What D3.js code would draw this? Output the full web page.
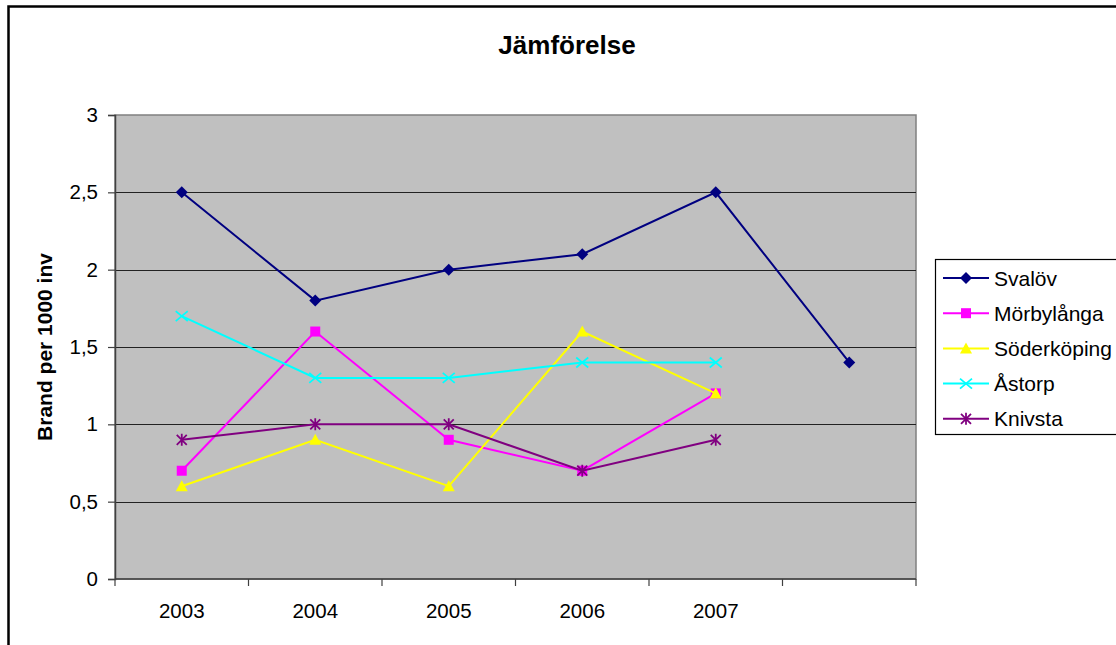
<!DOCTYPE html>
<html>
<head>
<meta charset="utf-8">
<script src="https://cdn.jsdelivr.net/npm/d3@7"></script>
<style>
  html, body { margin: 0; padding: 0; background: #fff; }
  svg { display: block; font-family: "Liberation Sans", Arial, sans-serif; }
</style>
</head>
<body>
<svg id="chart" width="1116" height="645"></svg>
<script>
// Bränder per 1000 invånare, fem kommuner
const categories = ["2003", "2004", "2005", "2006", "2007", ""];
const yTicks = [0, 0.5, 1, 1.5, 2, 2.5, 3];
const seriesNames = ["Svalöv", "Mörbylånga", "Söderköping", "Åstorp", "Knivsta"];
const svalov      = [2.5, 1.8, 2.0, 2.1, 2.5, 1.4];
const morbylanga  = [0.7, 1.6, 0.9, 0.7, 1.2];
const soderkoping = [0.6, 0.9, 0.6, 1.6, 1.2];
const astorp      = [1.7, 1.3, 1.3, 1.4, 1.4];
const knivsta     = [0.9, 1.0, 1.0, 0.7, 0.9];

const seriesValues = [svalov, morbylanga, soderkoping, astorp, knivsta];
const seriesColors = ["#000080", "#ff00ff", "#ffff00", "#00ffff", "#800080"];
const seriesMarkers = ["diamond", "square", "triangle", "cross", "star"];

const svg = d3.select("#chart");
const plot = { left: 115, top: 115, right: 916, bottom: 579 };

// outer chart frame (continues past the right and bottom edges)
svg.append("rect")
  .attr("x", 8.5).attr("y", 6.5)
  .attr("width", 1130).attr("height", 680)
  .attr("fill", "#fff").attr("stroke", "#000").attr("stroke-width", 2.5);

const x = d3.scaleBand().domain(d3.range(categories.length))
  .range([plot.left, plot.right]).padding(0);
const y = d3.scaleLinear().domain([0, 3]).range([plot.bottom, plot.top]);

// plot area
svg.append("rect")
  .attr("x", plot.left).attr("y", plot.top)
  .attr("width", plot.right - plot.left).attr("height", plot.bottom - plot.top)
  .attr("fill", "#c0c0c0").attr("stroke", "#808080").attr("stroke-width", 1.5);

// gridlines
svg.append("g")
  .selectAll("line")
  .data(yTicks.filter(d => d > 0 && d < 3))
  .join("line")
  .attr("x1", plot.left).attr("x2", plot.right)
  .attr("y1", d => Math.round(y(d)) + 0.5).attr("y2", d => Math.round(y(d)) + 0.5)
  .attr("stroke", "#222").attr("stroke-width", 1.2);

// y axis
const yAxis = svg.append("g")
  .attr("transform", `translate(${plot.left},0)`)
  .call(d3.axisLeft(y).tickValues(yTicks).tickSize(7).tickPadding(10)
    .tickFormat(d => String(d).replace(".", ",")));
yAxis.select(".domain").attr("stroke", "#404040").attr("stroke-width", 1.5);
yAxis.selectAll(".tick line").attr("stroke", "#404040").attr("stroke-width", 1.2);
yAxis.selectAll(".tick text").attr("font-size", 20.5).attr("fill", "#000")
  .attr("font-family", "Liberation Sans, Arial, sans-serif");

// x axis: ticks on category boundaries, labels at category centres
const xAxisG = svg.append("g");
xAxisG.append("line")
  .attr("x1", plot.left).attr("x2", plot.right)
  .attr("y1", plot.bottom).attr("y2", plot.bottom)
  .attr("stroke", "#404040").attr("stroke-width", 1.5);
const boundaries = d3.range(categories.length + 1);
xAxisG.selectAll("line.tk")
  .data(boundaries)
  .join("line").attr("class", "tk")
  .attr("x1", i => i < categories.length ? x(i) : x(categories.length - 1) + x.bandwidth())
  .attr("x2", i => i < categories.length ? x(i) : x(categories.length - 1) + x.bandwidth())
  .attr("y1", plot.bottom).attr("y2", plot.bottom + 7)
  .attr("stroke", "#404040").attr("stroke-width", 1.2);
xAxisG.selectAll("text")
  .data(categories)
  .join("text")
  .attr("x", (d, i) => x(i) + x.bandwidth() / 2)
  .attr("y", 618)
  .attr("text-anchor", "middle")
  .attr("font-size", 20.5)
  .text(d => d);

// titles
svg.append("text")
  .attr("x", 567).attr("y", 54)
  .attr("text-anchor", "middle")
  .attr("font-size", 26).attr("font-weight", "bold")
  .text("Jämförelse");

svg.append("text")
  .attr("transform", `translate(52,${(plot.top + plot.bottom) / 2}) rotate(-90)`)
  .attr("text-anchor", "middle")
  .attr("font-size", 21).attr("font-weight", "bold")
  .text("Brand per 1000 inv");

// markers
function drawMarker(g, type, color) {
  if (type === "diamond") {
    g.append("path").attr("d", "M0,-6L6,0L0,6L-6,0Z").attr("fill", color);
  } else if (type === "square") {
    g.append("rect").attr("x", -5).attr("y", -5).attr("width", 10).attr("height", 10).attr("fill", color);
  } else if (type === "triangle") {
    g.append("path").attr("d", "M0,-6L6,5L-6,5Z").attr("fill", color);
  } else if (type === "cross") {
    g.append("path").attr("d", "M-6,-5L6,5M-6,5L6,-5").attr("stroke", color).attr("stroke-width", 1.8).attr("fill", "none");
  } else if (type === "star") {
    g.append("path").attr("d", "M-5,-5L5,5M-5,5L5,-5M0,-6L0,6").attr("stroke", color).attr("stroke-width", 1.8).attr("fill", "none");
  }
}

const line = d3.line()
  .x((d, i) => x(i) + x.bandwidth() / 2)
  .y(d => y(d));

seriesValues.forEach((vals, s) => {
  const g = svg.append("g");
  g.append("path")
    .attr("d", line(vals))
    .attr("fill", "none")
    .attr("stroke", seriesColors[s])
    .attr("stroke-width", 2);
  vals.forEach((v, i) => {
    const m = g.append("g").attr("transform", `translate(${x(i) + x.bandwidth() / 2},${y(v)})`);
    drawMarker(m, seriesMarkers[s], seriesColors[s]);
  });
});

// legend
const legend = svg.append("g");
legend.append("rect")
  .attr("x", 935.5).attr("y", 259.5)
  .attr("width", 200).attr("height", 175)
  .attr("fill", "#fff").attr("stroke", "#000").attr("stroke-width", 1.2);
seriesNames.forEach((name, s) => {
  const cy = 278 + s * 35.2;
  legend.append("line")
    .attr("x1", 943).attr("x2", 989).attr("y1", cy).attr("y2", cy)
    .attr("stroke", seriesColors[s]).attr("stroke-width", 2);
  drawMarker(legend.append("g").attr("transform", `translate(966,${cy})`), seriesMarkers[s], seriesColors[s]);
  legend.append("text")
    .attr("x", 994).attr("y", cy + 7.5)
    .attr("font-size", 21)
    .text(name);
});
</script>
</body>
</html>
